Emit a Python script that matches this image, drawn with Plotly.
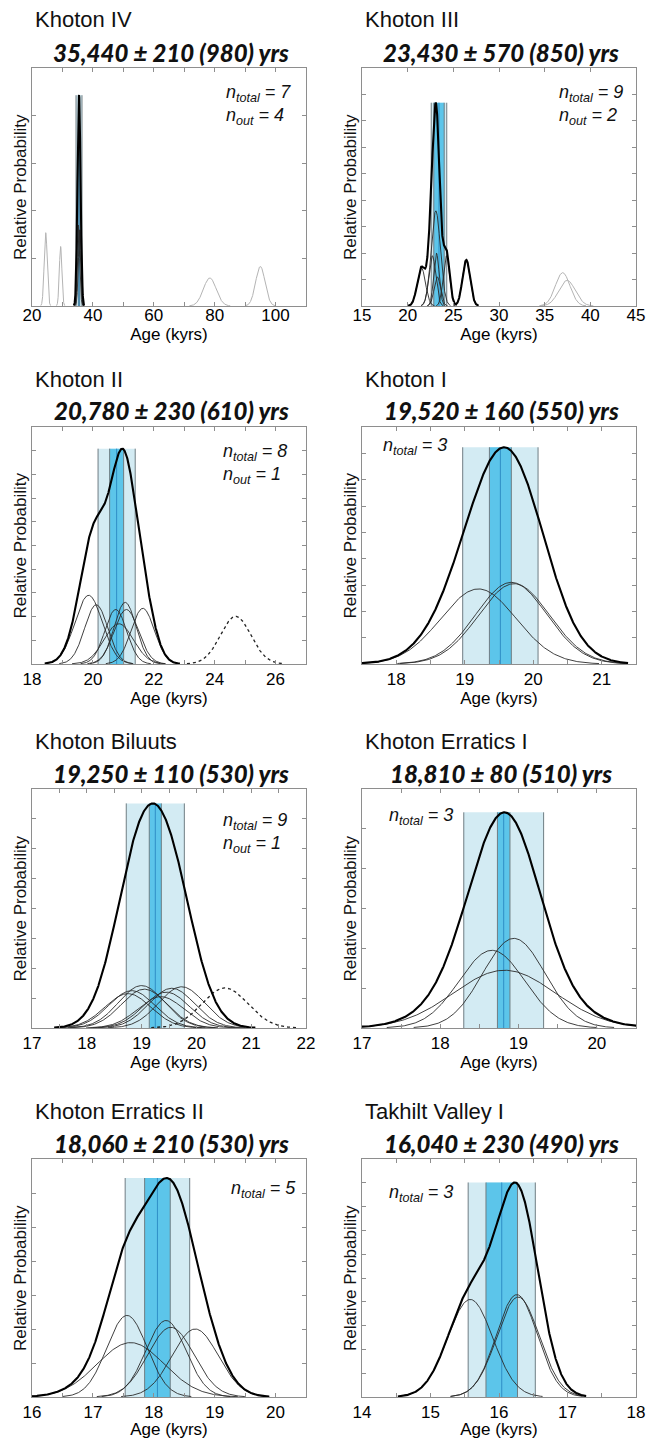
import numpy as np
import plotly.graph_objects as go

W, H = 647, 1439

# ---- site summaries: mean exposure age with internal and total 1-sigma uncertainty (yr)
sites = ["Khoton IV", "Khoton III", "Khoton II", "Khoton I",
         "Khoton Biluuts", "Khoton Erratics I", "Khoton Erratics II", "Takhilt Valley I"]
site_mean = [35440, 23430, 20780, 19520, 19250, 18810, 18060, 16040]
site_err_int = [210, 570, 230, 160, 110, 80, 210, 230]
site_err_tot = [980, 850, 610, 550, 530, 510, 530, 490]
n_total = [7, 9, 8, 3, 9, 3, 5, 3]
n_out = [4, 2, 1, 0, 1, 0, 0, 0]

# ---- individual boulder ages (kyr): age, 1-sigma, peak relative probability, outlier flag
k4_age = [35.20, 35.45, 35.70, 24.50, 29.40, 78.40, 95.00]
k4_sig = [0.45, 0.45, 0.45, 0.50, 0.42, 2.10, 1.55]
k4_peak = [1.70, 1.60, 1.60, 1.54, 1.25, 0.59, 0.83]
k4_out = [0, 0, 0, 1, 1, 1, 1]

k3_age = [21.50, 22.70, 23.08, 23.15, 23.25, 24.25, 26.42, 36.97, 37.45]
k3_sig = [0.45, 0.38, 0.50, 0.30, 0.35, 0.35, 0.42, 0.80, 0.90]
k3_peak = [1.45, 1.90, 3.60, 2.00, 1.10, 1.90, 1.74, 1.26, 0.97]
k3_out = [0, 0, 0, 0, 0, 0, 0, 1, 1]

k2_age = [19.86, 20.11, 20.75, 21.06, 21.10, 20.85, 21.64, 24.69]
k2_sig = [0.45, 0.38, 0.36, 0.36, 0.40, 0.48, 0.38, 0.50]
k2_peak = [2.90, 2.50, 2.30, 2.60, 2.30, 1.70, 2.35, 2.01]
k2_out = [0, 0, 0, 0, 0, 0, 0, 1]

k1_age = [19.20, 19.68, 19.72]
k1_sig = [0.55, 0.52, 0.52]
k1_peak = [2.85, 3.10, 3.05]
k1_out = [0, 0, 0]

kb_age = [18.75, 18.82, 19.00, 19.05, 19.35, 19.45, 19.55, 19.73, 20.52]
kb_sig = [0.42, 0.42, 0.42, 0.42, 0.42, 0.42, 0.42, 0.42, 0.42]
kb_peak = [1.15, 1.25, 1.42, 1.30, 1.05, 1.20, 1.33, 1.38, 1.34]
kb_out = [0, 0, 0, 0, 0, 0, 0, 0, 1]

ke1_age = [18.66, 18.94, 18.82]
ke1_sig = [0.42, 0.40, 0.65]
ke1_peak = [1.95, 2.25, 1.45]
ke1_out = [0, 0, 0]

ke2_age = [17.56, 17.62, 18.20, 18.28, 18.68]
ke2_sig = [0.33, 0.55, 0.33, 0.38, 0.38]
ke2_peak = [2.40, 1.60, 2.25, 2.05, 2.00]
ke2_out = [0, 0, 0, 0, 0]

tv_age = [15.58, 16.26, 16.28]
tv_sig = [0.33, 0.30, 0.31]
tv_peak = [4.10, 4.30, 4.20]
tv_out = [0, 0, 0]

samples = [
    (k4_age, k4_sig, k4_peak, k4_out),
    (k3_age, k3_sig, k3_peak, k3_out),
    (k2_age, k2_sig, k2_peak, k2_out),
    (k1_age, k1_sig, k1_peak, k1_out),
    (kb_age, kb_sig, kb_peak, kb_out),
    (ke1_age, ke1_sig, ke1_peak, ke1_out),
    (ke2_age, ke2_sig, ke2_peak, ke2_out),
    (tv_age, tv_sig, tv_peak, tv_out),
]

# ---- axis settings per panel
x_lo = [20, 15, 18, 17.5, 17, 17, 16, 14]
x_hi = [110, 45, 27, 21.5, 22, 20.5, 20.5, 18]
x_step = [10, 5, 1, 0.5, 0.5, 0.5, 0.5, 0.5]
x_lab_step = [20, 5, 2, 1, 1, 1, 1, 1]
y_hi = [5, 9, 10, 9, 8, 6, 7, 10]
# outlier line style: faint grey (far outliers) or dotted black
out_style = ["grey", "grey", "dot", "dot", "dot", "dot", "dot", "dot"]
# placement of the n_total / n_out note (fraction of the axes box)
note_x = [0.70, 0.71, 0.69, 0.07, 0.69, 0.09, 0.72, 0.09]
note_y = [0.95, 0.95, 0.95, 0.975, 0.92, 0.94, 0.93, 0.91]
# tick-label offset per row (top row sits tighter to its axis)
row_label_shift = [-6, 0, 0, 0]

# ---- page geometry (pixels)
col_px = [(32, 306), (362, 636)]
row_px = [(68, 306), (427, 664), (789, 1028), (1159, 1397)]

FONT = "Liberation Sans"
BOX = "#8e8e8e"
LIGHT = "#d3ebf3"
DARK = "#5cc5ea"
EDGE = "#6f7d83"
MID = "#2f8ec6"


def gauss(x, mu, sd, pk):
    return pk * np.exp(-0.5 * ((x - mu) / sd) ** 2)


def fmt(v):
    return str(int(round(v))) if abs(v - round(v)) < 1e-9 else f"{v:g}"


fig = go.Figure()
shapes, annotations = [], []
layout = {}

for i in range(8):
    row, col = divmod(i, 2)
    k = i + 1
    xa = "x" if k == 1 else f"x{k}"
    ya = "y" if k == 1 else f"y{k}"
    xl, xr = col_px[col]
    yt, yb = row_px[row]

    age, sig, pk, out = samples[i]
    age, sig, pk, out = map(np.asarray, (age, sig, pk, out))
    inl = out == 0

    # outliers
    for mu, sd, p in zip(age[~inl], sig[~inl], pk[~inl]):
        xs = np.linspace(mu - 3.2 * sd, mu + 3.2 * sd, 240)
        if out_style[i] == "grey":
            line = dict(color="#b4b4b4", width=1)
        else:
            line = dict(color="#222222", width=1.3, dash="dot")
        fig.add_trace(go.Scatter(x=xs, y=gauss(xs, mu, sd, p), mode="lines",
                                 line=line, xaxis=xa, yaxis=ya,
                                 showlegend=False, hoverinfo="skip"))

    # individual inlier ages
    for mu, sd, p in zip(age[inl], sig[inl], pk[inl]):
        xs = np.linspace(mu - 3.2 * sd, mu + 3.2 * sd, 240)
        fig.add_trace(go.Scatter(x=xs, y=gauss(xs, mu, sd, p), mode="lines",
                                 line=dict(color="#2a2a2a", width=0.9),
                                 xaxis=xa, yaxis=ya, showlegend=False,
                                 hoverinfo="skip"))

    # summed probability of the inliers
    g0 = np.min(age[inl] - 3.2 * sig[inl])
    g1 = np.max(age[inl] + 3.2 * sig[inl])
    xs = np.linspace(g0, g1, 800)
    total = np.zeros_like(xs)
    for mu, sd, p in zip(age[inl], sig[inl], pk[inl]):
        total += gauss(xs, mu, sd, p)
    fig.add_trace(go.Scatter(x=xs, y=total, mode="lines",
                             line=dict(color="black", width=2.1),
                             xaxis=xa, yaxis=ya, showlegend=False,
                             hoverinfo="skip"))
    top = float(total.max())

    # uncertainty bands around the site mean: total (light) and internal (dark)
    m = site_mean[i] / 1000.0
    ei = site_err_int[i] / 1000.0
    et = site_err_tot[i] / 1000.0
    for half, fill in ((et, LIGHT), (ei, DARK)):
        shapes.append(dict(type="rect", xref=xa, yref=ya, x0=m - half, x1=m + half,
                           y0=0, y1=top, fillcolor=fill, line=dict(width=0),
                           layer="below"))
        for xe in (m - half, m + half):
            shapes.append(dict(type="line", xref=xa, yref=ya, x0=xe, x1=xe,
                               y0=0, y1=top, line=dict(color=EDGE, width=1),
                               layer="below"))
    shapes.append(dict(type="line", xref=xa, yref=ya, x0=m, x1=m,
                       y0=0, y1=top, line=dict(color=MID, width=1),
                       layer="below"))

    # axes
    tv = np.arange(x_lo[i], x_hi[i] + 1e-9, x_step[i])
    tt = [fmt(v) if abs(v / x_lab_step[i] - round(v / x_lab_step[i])) < 1e-9 else ""
          for v in tv]
    common = dict(showline=True, linecolor=BOX, linewidth=1, mirror="allticks",
                  ticks="inside", ticklen=4, tickcolor=BOX, tickwidth=1,
                  showgrid=False, zeroline=False, automargin=False)
    layout["xaxis" if k == 1 else f"xaxis{k}"] = dict(
        domain=[xl / W, xr / W], anchor=ya, range=[x_lo[i], x_hi[i]],
        tickmode="array", tickvals=list(tv), ticktext=tt,
        ticklabelstandoff=row_label_shift[row],
        tickfont=dict(family=FONT, size=17, color="black"),
        title=dict(text="Age (kyrs)", font=dict(family=FONT, size=17, color="black"),
                   standoff=2),
        **common)
    layout["yaxis" if k == 1 else f"yaxis{k}"] = dict(
        domain=[1 - yb / H, 1 - yt / H], anchor=xa, range=[0, y_hi[i]],
        tickmode="array", tickvals=list(range(1, int(np.floor(y_hi[i])) + 1)),
        showticklabels=False, **common)

    # titles
    annotations.append(dict(x=(xl + 1) / W, y=1 - (yt - 48) / H, xref="paper", yref="paper",
                            text=sites[i], showarrow=False, xanchor="left", yanchor="middle",
                            font=dict(family=FONT, size=22, color="#111111")))
    sub = f"{site_mean[i]:,} ± {site_err_int[i]} ({site_err_tot[i]}) yrs"
    annotations.append(dict(x=((xl + xr) / 2 + 2) / W, y=1 - (yt - 16) / H,
                            xref="paper", yref="paper",
                            text=sub, showarrow=False,
                            xanchor="center", yanchor="middle",
                            font=dict(family="Lato", size=24, color="#111111",
                                      weight=900, style="italic")))
    annotations.append(dict(x=(xl - 12) / W, y=1 - ((yt + yb) / 2) / H,
                            xref="paper", yref="paper", text="Relative Probability",
                            textangle=-90, showarrow=False, xanchor="center",
                            yanchor="middle",
                            font=dict(family=FONT, size=17, color="#111111")))
    note = f"<i>n</i><sub><i>total</i></sub><i> = {n_total[i]}</i>"
    if n_out[i]:
        note += f"<br><i>n</i><sub><i>out</i></sub><i> = {n_out[i]}</i>"
    annotations.append(dict(x=note_x[i], y=note_y[i], xref=f"{xa} domain",
                            yref=f"{ya} domain", text=note, showarrow=False,
                            xanchor="left", yanchor="top", align="left",
                            font=dict(family=FONT, size=18, color="#111111")))

fig.update_layout(width=W, height=H, margin=dict(l=0, r=0, t=0, b=0),
                  paper_bgcolor="white", plot_bgcolor="white",
                  shapes=shapes, annotations=annotations, **layout)

fig.write_html("out.html")
